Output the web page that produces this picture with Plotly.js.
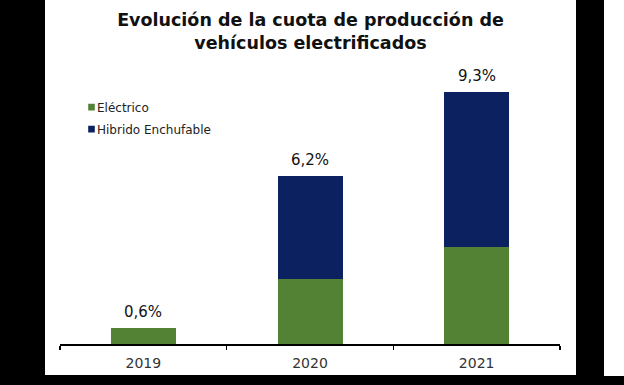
<!DOCTYPE html>
<html>
<head>
<meta charset="utf-8">
<script src="https://cdn.plot.ly/plotly-3.0.1.min.js"></script>
<style>
  html, body { margin: 0; padding: 0; background: #000; width: 624px; height: 385px; overflow: hidden; }
  #chart { position: absolute; left: 45px; top: 0; width: 531px; height: 375px; background: #fff; }
  #strip { position: absolute; left: 604px; top: 0; width: 20px; height: 376px; background: #fff; }
  #chart .legendpoints path { transform: translate(34.5px, 0) scale(0.55); }
</style>
</head>
<body>
<div id="chart"></div>
<div id="strip"></div>
<script>
const years = ['2019', '2020', '2021'];
const electrico = [0.6, 2.4, 3.6];
const hibrido = [0.0, 3.8, 5.7];
const seriesNames = ['Eléctrico', 'Hibrido Enchufable'];
const titleText = 'Evolución de la cuota de producción de<br>vehículos electrificados';

const totals = years.map((_, i) => +(electrico[i] + hibrido[i]).toFixed(1));

const traces = [
  { type: 'bar', x: years, y: electrico, name: seriesNames[0], legendgroup: 'e',
    marker: { color: '#548235' }, hoverinfo: 'skip' },
  { type: 'bar', x: years, y: hibrido, name: seriesNames[1], legendgroup: 'h',
    marker: { color: '#0b2160' }, hoverinfo: 'skip' }
];

const annotations = years.map((yr, i) => ({
  x: i, y: totals[i], xref: 'x', yref: 'y',
  text: totals[i].toFixed(1).replace('.', ',') + '%',
  showarrow: false, yanchor: 'bottom', yshift: 5,
  font: { family: 'DejaVu Sans', size: 15, color: '#111' }
}));

const layout = {
  width: 531, height: 375,
  margin: { l: 15, r: 16, t: 60, b: 31 },
  paper_bgcolor: '#fff', plot_bgcolor: '#fff',
  barmode: 'stack', bargap: 0.61,
  title: {
    text: titleText, x: 0.5, xanchor: 'center', xref: 'container',
    y: 0.931, yanchor: 'top', yref: 'container',
    font: { family: 'DejaVu Sans', size: 17.5, color: '#111', weight: 'bold' }
  },
  xaxis: {
    type: 'category', showline: true, linecolor: '#000', linewidth: 1.5,
    ticks: 'outside', tickson: 'boundaries', ticklen: 4, tickwidth: 1.5, tickcolor: '#000',
    showgrid: false, zeroline: false, ticklabelstandoff: 6,
    tickfont: { family: 'DejaVu Sans', size: 14, color: '#333' }
  },
  yaxis: { visible: false, range: [0, 10.495], showgrid: false, zeroline: false },
  showlegend: true,
  legend: {
    x: -0.006, xanchor: 'left', y: 0.885, yanchor: 'top',
    traceorder: 'grouped', tracegroupgap: 3, bgcolor: 'rgba(0,0,0,0)',
    font: { family: 'DejaVu Sans', size: 12, color: '#222' }
  },
  annotations: annotations
};

Plotly.newPlot('chart', traces, layout, { staticPlot: true, displayModeBar: false });
</script>
</body>
</html>
